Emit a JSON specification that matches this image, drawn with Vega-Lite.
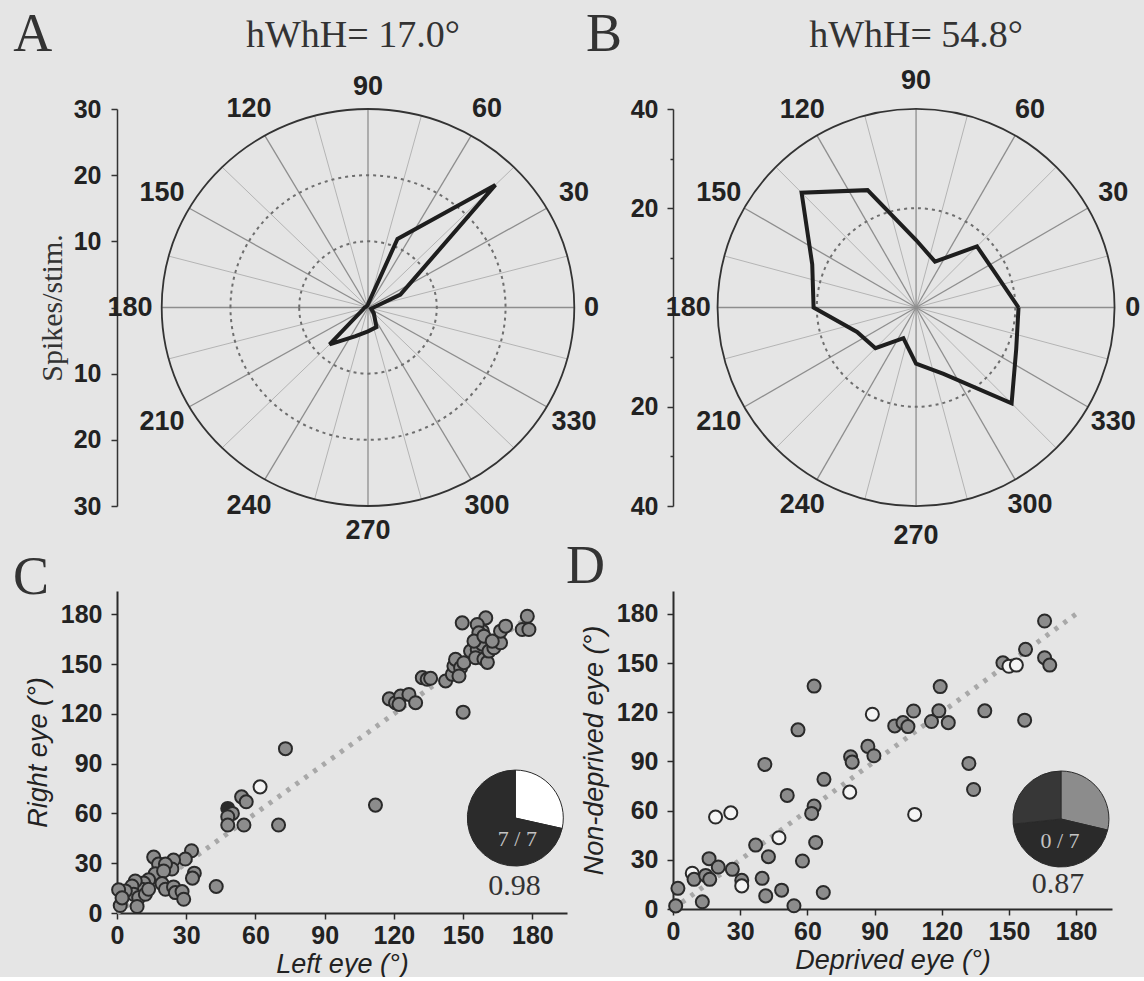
{
"$schema": "https://vega.github.io/schema/vega-lite/v6.json",
"background": "#e5e5e5",
"padding": {"left": 12, "top": 7, "right": 0, "bottom": 0},
"bounds": "flush",
"columns": 2,
"spacing": {"row": 85, "column": 54},
"resolve": {"scale": {"size": "independent"}},
"config": {"view": {"stroke": null}, "axis": {"grid": false}},
"datasets": {
"spokes": [{"angle":0},{"angle":15},{"angle":30},{"angle":45},{"angle":60},{"angle":75},{"angle":90},{"angle":105},{"angle":120},{"angle":135},{"angle":150},{"angle":165},{"angle":180},{"angle":195},{"angle":210},{"angle":225},{"angle":240},{"angle":255},{"angle":270},{"angle":285},{"angle":300},{"angle":315},{"angle":330},{"angle":345}],
"labelAngles": [{"angle":0},{"angle":30},{"angle":60},{"angle":90},{"angle":120},{"angle":150},{"angle":180},{"angle":210},{"angle":240},{"angle":270},{"angle":300},{"angle":330}],
"curveA": [{"angle":0,"r":0.8},{"angle":22.5,"r":5.1},{"angle":45,"r":26.2},{"angle":67.5,"r":11.2},{"angle":90,"r":0.5},{"angle":112.5,"r":0.3},{"angle":135,"r":0.3},{"angle":157.5,"r":0.3},{"angle":180,"r":0.5},{"angle":202.5,"r":0.8},{"angle":225,"r":7.9},{"angle":247.5,"r":4.7},{"angle":270,"r":3.6},{"angle":292.5,"r":3.2},{"angle":315,"r":1.2},{"angle":337.5,"r":0.5},{"angle":360,"r":0.8}],
"curveB": [{"angle":0,"r":20.7},{"angle":22.5,"r":17.5},{"angle":45,"r":17.4},{"angle":67.5,"r":10.0},{"angle":90,"r":13.6},{"angle":112.5,"r":25.6},{"angle":135,"r":32.7},{"angle":157.5,"r":22.7},{"angle":180,"r":20.7},{"angle":202.5,"r":12.9},{"angle":225,"r":11.6},{"angle":247.5,"r":6.7},{"angle":270,"r":11.3},{"angle":292.5,"r":14.5},{"angle":315,"r":27.3},{"angle":337.5,"r":21.9},{"angle":360,"r":20.7}],
"diag": [{"v":0},{"v":180}],
"ptsC": [
{"x":73,"y":99,"t":"f"},{"x":62,"y":76,"t":"o"},{"x":54,"y":70,"t":"f"},{"x":56,"y":67,"t":"f"},{"x":48,"y":63,"t":"d"},{"x":50,"y":60,"t":"f"},{"x":48,"y":58,"t":"f"},{"x":48,"y":53,"t":"f"},{"x":55,"y":53,"t":"f"},{"x":70,"y":53,"t":"f"},
{"x":43,"y":16,"t":"f"},{"x":33.5,"y":24,"t":"f"},{"x":32.7,"y":21,"t":"f"},{"x":32.3,"y":37.5,"t":"f"},{"x":29.6,"y":32.5,"t":"f"},{"x":15.9,"y":33.7,"t":"f"},{"x":18,"y":29.5,"t":"f"},{"x":24.5,"y":31.9,"t":"f"},{"x":23.8,"y":26.5,"t":"f"},{"x":21,"y":29.5,"t":"f"},
{"x":16.6,"y":23.7,"t":"f"},{"x":20.2,"y":25.3,"t":"f"},{"x":13.7,"y":20,"t":"f"},{"x":19.5,"y":17.7,"t":"f"},{"x":21,"y":14.3,"t":"f"},{"x":24.5,"y":15.7,"t":"f"},{"x":25.3,"y":12.3,"t":"f"},{"x":28.2,"y":12.9,"t":"f"},{"x":28.9,"y":8.3,"t":"f"},{"x":11.6,"y":18,"t":"f"},
{"x":10.8,"y":14.3,"t":"f"},{"x":7.9,"y":19.3,"t":"f"},{"x":6.5,"y":16.3,"t":"f"},{"x":7.2,"y":11.3,"t":"f"},{"x":9.4,"y":9.3,"t":"f"},{"x":3.6,"y":13.3,"t":"f"},{"x":8.7,"y":3.9,"t":"f"},{"x":1.4,"y":4.5,"t":"f"},{"x":0.7,"y":14,"t":"f"},{"x":2.2,"y":9.1,"t":"f"},
{"x":12.3,"y":11.3,"t":"f"},{"x":13.7,"y":14.3,"t":"f"},
{"x":112,"y":65,"t":"f"},{"x":150,"y":121,"t":"f"},{"x":118,"y":129,"t":"f"},{"x":120.7,"y":126.7,"t":"f"},{"x":122.9,"y":130.7,"t":"f"},{"x":126.5,"y":131.7,"t":"f"},{"x":129.4,"y":126.7,"t":"f"},{"x":122.2,"y":125.7,"t":"f"},
{"x":132.3,"y":141.8,"t":"f"},{"x":134.4,"y":140.8,"t":"f"},{"x":135.9,"y":141.4,"t":"f"},{"x":142.4,"y":139.8,"t":"f"},{"x":145.3,"y":143.8,"t":"f"},{"x":146,"y":148.8,"t":"f"},{"x":146.7,"y":152.8,"t":"f"},{"x":148.9,"y":147.8,"t":"f"},{"x":150.3,"y":150.8,"t":"f"},{"x":148.2,"y":142.8,"t":"f"},
{"x":149.6,"y":174.8,"t":"f"},{"x":153.2,"y":157.8,"t":"f"},{"x":156.1,"y":158.8,"t":"f"},{"x":155.4,"y":153.8,"t":"f"},{"x":158.3,"y":162,"t":"f"},{"x":159,"y":153,"t":"f"},{"x":160.5,"y":151,"t":"f"},{"x":161.2,"y":157.8,"t":"f"},{"x":163.3,"y":159.8,"t":"f"},{"x":166.2,"y":162.8,"t":"f"},
{"x":158.3,"y":169.8,"t":"f"},{"x":159.8,"y":177.8,"t":"f"},{"x":156.1,"y":173.8,"t":"f"},{"x":166.2,"y":169.8,"t":"f"},{"x":168.4,"y":172.8,"t":"f"},{"x":175.6,"y":170.8,"t":"f"},{"x":177.8,"y":178.8,"t":"f"},{"x":178.5,"y":170.8,"t":"f"},{"x":156.8,"y":168.8,"t":"f"},{"x":154.7,"y":163.8,"t":"f"},
{"x":159,"y":166.8,"t":"f"},{"x":162.6,"y":163.8,"t":"f"}
],
"ptsD": [
{"x":63,"y":136,"t":"f"},{"x":55.8,"y":109.3,"t":"f"},{"x":41,"y":88.2,"t":"f"},{"x":51,"y":69.3,"t":"f"},{"x":67.4,"y":79.1,"t":"f"},{"x":79.3,"y":92.9,"t":"f"},{"x":80,"y":89.6,"t":"f"},{"x":78.9,"y":71.3,"t":"o"},{"x":63,"y":62.8,"t":"f"},{"x":61.9,"y":58.3,"t":"f"},
{"x":19,"y":56.1,"t":"o"},{"x":25.8,"y":58.7,"t":"o"},{"x":47.3,"y":43.5,"t":"o"},{"x":36.9,"y":39,"t":"f"},{"x":42.6,"y":31.9,"t":"f"},{"x":57.8,"y":29.3,"t":"f"},{"x":63.7,"y":40.6,"t":"f"},{"x":16.1,"y":30.7,"t":"f"},{"x":20.2,"y":25.6,"t":"f"},{"x":26.5,"y":24.2,"t":"f"},
{"x":8.6,"y":21.8,"t":"o"},{"x":9.4,"y":18.1,"t":"f"},{"x":14.6,"y":20.5,"t":"f"},{"x":16.4,"y":18.1,"t":"f"},{"x":30.7,"y":17.5,"t":"f"},{"x":30.7,"y":14.1,"t":"o"},{"x":39.8,"y":18.7,"t":"f"},{"x":41.4,"y":8,"t":"f"},{"x":48.5,"y":11.5,"t":"f"},{"x":67.1,"y":10.1,"t":"f"},
{"x":54,"y":2,"t":"f"},{"x":13.1,"y":4.4,"t":"f"},{"x":2.2,"y":12.6,"t":"f"},{"x":1.2,"y":1.9,"t":"f"},
{"x":165.9,"y":175.7,"t":"f"},{"x":157.4,"y":158.4,"t":"f"},{"x":165.9,"y":153.3,"t":"f"},{"x":168.2,"y":148.8,"t":"f"},{"x":147.3,"y":150.2,"t":"f"},{"x":150,"y":148.1,"t":"o"},{"x":153.3,"y":148.8,"t":"o"},
{"x":119.3,"y":135.7,"t":"f"},{"x":107.4,"y":120.8,"t":"f"},{"x":89,"y":118.8,"t":"o"},{"x":99,"y":111.7,"t":"f"},{"x":102.7,"y":113.7,"t":"f"},{"x":104.9,"y":111.3,"t":"f"},{"x":115.4,"y":114.4,"t":"f"},{"x":118.7,"y":120.9,"t":"f"},{"x":122.9,"y":113.7,"t":"f"},{"x":139.2,"y":120.9,"t":"f"},
{"x":157,"y":115.2,"t":"f"},{"x":87,"y":99.2,"t":"f"},{"x":89.7,"y":93.5,"t":"f"},{"x":132.1,"y":88.8,"t":"f"},{"x":134.2,"y":72.9,"t":"f"},{"x":107.9,"y":57.7,"t":"o"}
],
"pieC": [{"i":1,"slice":"c_rest","frac":0.285},{"i":2,"slice":"c_match","frac":0.715}],
"pieD": [{"i":1,"slice":"d_a","frac":0.287},{"i":2,"slice":"d_b","frac":0.446},{"i":3,"slice":"d_c","frac":0.267}]
},
"concat": [
{
"width": 502, "height": 397,
"layer": [
{
"data": {"name": "spokes"},
"transform": [{"filter": "datum.angle % 30 != 0"},{"calculate": "0", "as": "o"},{"calculate": "30*cos(datum.angle*PI/180)", "as": "ex"},{"calculate": "30*sin(datum.angle*PI/180)", "as": "ey"}],
"mark": {"type": "rule", "stroke": "#b4b4b4", "strokeWidth": 1},
"encoding": {
"x": {"field": "o", "type": "quantitative", "scale": {"domain": [-36.5, 36.5], "nice": false, "zero": false}, "axis": null},
"y": {"field": "o", "type": "quantitative", "scale": {"domain": [-30, 30], "nice": false, "zero": false},
"axis": {"values": [-30,-25,-20,-15,-10,-5,0,5,10,15,20,25,30], "labelExpr": "datum.value % 10 == 0 && datum.value != 0 ? '' + abs(datum.value) : ''", "tickSize": {"condition": {"test": "datum.value % 10 == 0", "value": 6}, "value": 3}, "labelFont": "Liberation Sans", "labelFontWeight": "bold", "labelFontSize": 25, "labelColor": "#222222", "labelPadding": 10, "labelOverlap": false, "labelFlush": false, "domainColor": "#333333", "domainWidth": 1.5, "tickColor": "#333333", "tickWidth": 1.5, "title": "Spikes/stim.", "titleFont": "Liberation Serif", "titleFontWeight": "normal", "titleFontSize": 30, "titleColor": "#333333", "titlePadding": 6}},
"x2": {"field": "ex"}, "y2": {"field": "ey"}
}
},
{
"data": {"name": "spokes"},
"transform": [{"filter": "datum.angle % 30 == 0"},{"calculate": "0", "as": "o"},{"calculate": "30*cos(datum.angle*PI/180)", "as": "ex"},{"calculate": "30*sin(datum.angle*PI/180)", "as": "ey"}],
"mark": {"type": "rule", "stroke": "#8e8e8e", "strokeWidth": 1.3},
"encoding": {
"x": {"field": "o", "type": "quantitative", "scale": {"domain": [-36.5, 36.5], "nice": false, "zero": false}, "axis": null},
"y": {"field": "o", "type": "quantitative", "scale": {"domain": [-30, 30], "nice": false, "zero": false}},
"x2": {"field": "ex"}, "y2": {"field": "ey"}
}
},
{
"data": {"values": [{"r": 10}, {"r": 20}]},
"mark": {"type": "point", "shape": "M -1.0393 0 A 1.0393 1 0 1 1 1.0393 0 A 1.0393 1 0 1 1 -1.0393 0 Z", "filled": false, "stroke": "#6e6e6e", "strokeWidth": 2, "strokeDash": [3, 4], "opacity": 1},
"encoding": {
"x": {"datum": 0, "type": "quantitative", "scale": {"domain": [-36.5, 36.5], "nice": false, "zero": false}, "axis": null},
"y": {"datum": 0, "type": "quantitative", "scale": {"domain": [-30, 30], "nice": false, "zero": false}},
"size": {"field": "r", "type": "quantitative", "scale": {"type": "pow", "exponent": 2, "domain": [0, 30], "range": [0, 157609]}, "legend": null}
}
},
{
"data": {"values": [{"r": 30}]},
"mark": {"type": "point", "shape": "M -1.0393 0 A 1.0393 1 0 1 1 1.0393 0 A 1.0393 1 0 1 1 -1.0393 0 Z", "filled": false, "stroke": "#333333", "strokeWidth": 1.8, "opacity": 1},
"encoding": {
"x": {"datum": 0, "type": "quantitative", "scale": {"domain": [-36.5, 36.5], "nice": false, "zero": false}, "axis": null},
"y": {"datum": 0, "type": "quantitative", "scale": {"domain": [-30, 30], "nice": false, "zero": false}},
"size": {"field": "r", "type": "quantitative", "scale": {"type": "pow", "exponent": 2, "domain": [0, 30], "range": [0, 157609]}, "legend": null}
}
},
{
"data": {"name": "curveA"},
"transform": [{"calculate": "datum.r*cos(datum.angle*PI/180)", "as": "px"},{"calculate": "datum.r*sin(datum.angle*PI/180)", "as": "py"}],
"mark": {"type": "line", "color": "#1e1e1e", "strokeWidth": 4, "strokeJoin": "miter"},
"encoding": {
"x": {"field": "px", "type": "quantitative", "scale": {"domain": [-36.5, 36.5], "nice": false, "zero": false}, "axis": null},
"y": {"field": "py", "type": "quantitative", "scale": {"domain": [-30, 30], "nice": false, "zero": false}},
"order": {"field": "angle", "type": "quantitative"}
}
},
{
"data": {"name": "labelAngles"},
"transform": [{"calculate": "datum.angle == 0 ? 32.5 : datum.angle == 90 ? 33.4 : datum.angle == 270 ? 33.8 : 34.6", "as": "lr"},{"calculate": "datum.lr*cos(datum.angle*PI/180)", "as": "px"},{"calculate": "datum.lr*sin(datum.angle*PI/180)", "as": "py"}],
"mark": {"type": "text", "font": "Liberation Sans", "fontWeight": "bold", "fontSize": 27, "color": "#222222", "align": "center", "baseline": "middle"},
"encoding": {
"x": {"field": "px", "type": "quantitative", "scale": {"domain": [-36.5, 36.5], "nice": false, "zero": false}, "axis": null},
"y": {"field": "py", "type": "quantitative", "scale": {"domain": [-30, 30], "nice": false, "zero": false}},
"text": {"field": "angle", "type": "quantitative"}
}
},
{
"data": {"values": [{}]},
"mark": {"type": "text", "text": "hWhH= 17.0°", "font": "Liberation Serif", "fontSize": 38, "color": "#333333", "align": "left", "baseline": "alphabetic"},
"encoding": {
"x": {"datum": -17.74, "type": "quantitative", "scale": {"domain": [-36.5, 36.5], "nice": false, "zero": false}, "axis": null},
"y": {"datum": 39.37, "type": "quantitative", "scale": {"domain": [-30, 30], "nice": false, "zero": false}}
}
},
{
"data": {"values": [{}]},
"mark": {"type": "text", "text": "A", "font": "Liberation Serif", "fontSize": 54, "color": "#333333", "align": "left", "baseline": "alphabetic"},
"encoding": {
"x": {"datum": -51.6, "type": "quantitative", "scale": {"domain": [-36.5, 36.5], "nice": false, "zero": false}, "axis": null},
"y": {"datum": 38.76, "type": "quantitative", "scale": {"domain": [-30, 30], "nice": false, "zero": false}}
}
}
]
},
{
"width": 472, "height": 397,
"layer": [
{
"data": {"name": "spokes"},
"transform": [{"filter": "datum.angle % 30 != 0"},{"calculate": "0", "as": "o"},{"calculate": "40*cos(datum.angle*PI/180)", "as": "ex"},{"calculate": "40*sin(datum.angle*PI/180)", "as": "ey"}],
"mark": {"type": "rule", "stroke": "#b4b4b4", "strokeWidth": 1},
"encoding": {
"x": {"field": "o", "type": "quantitative", "scale": {"domain": [-49.1, 46.25], "nice": false, "zero": false}, "axis": null},
"y": {"field": "o", "type": "quantitative", "scale": {"domain": [-40, 40], "nice": false, "zero": false},
"axis": {"values": [-40,-30,-20,-10,0,10,20,30,40], "labelExpr": "datum.value % 20 == 0 && datum.value != 0 ? '' + abs(datum.value) : ''", "tickSize": {"condition": {"test": "datum.value % 20 == 0", "value": 6}, "value": 3}, "labelFont": "Liberation Sans", "labelFontWeight": "bold", "labelFontSize": 25, "labelColor": "#222222", "labelPadding": 9, "labelOverlap": false, "labelFlush": false, "domainColor": "#333333", "domainWidth": 1.5, "tickColor": "#333333", "tickWidth": 1.5, "title": ""}},
"x2": {"field": "ex"}, "y2": {"field": "ey"}
}
},
{
"data": {"name": "spokes"},
"transform": [{"filter": "datum.angle % 30 == 0"},{"calculate": "0", "as": "o"},{"calculate": "40*cos(datum.angle*PI/180)", "as": "ex"},{"calculate": "40*sin(datum.angle*PI/180)", "as": "ey"}],
"mark": {"type": "rule", "stroke": "#8e8e8e", "strokeWidth": 1.3},
"encoding": {
"x": {"field": "o", "type": "quantitative", "scale": {"domain": [-49.1, 46.25], "nice": false, "zero": false}, "axis": null},
"y": {"field": "o", "type": "quantitative", "scale": {"domain": [-40, 40], "nice": false, "zero": false}},
"x2": {"field": "ex"}, "y2": {"field": "ey"}
}
},
{
"data": {"values": [{"r": 20}]},
"mark": {"type": "point", "shape": "circle", "filled": false, "stroke": "#6e6e6e", "strokeWidth": 2, "strokeDash": [3, 4], "opacity": 1},
"encoding": {
"x": {"datum": 0, "type": "quantitative", "scale": {"domain": [-49.1, 46.25], "nice": false, "zero": false}, "axis": null},
"y": {"datum": 0, "type": "quantitative", "scale": {"domain": [-40, 40], "nice": false, "zero": false}},
"size": {"field": "r", "type": "quantitative", "scale": {"type": "pow", "exponent": 2, "domain": [0, 40], "range": [0, 157609]}, "legend": null}
}
},
{
"data": {"values": [{"r": 40}]},
"mark": {"type": "point", "shape": "circle", "filled": false, "stroke": "#333333", "strokeWidth": 1.8, "opacity": 1},
"encoding": {
"x": {"datum": 0, "type": "quantitative", "scale": {"domain": [-49.1, 46.25], "nice": false, "zero": false}, "axis": null},
"y": {"datum": 0, "type": "quantitative", "scale": {"domain": [-40, 40], "nice": false, "zero": false}},
"size": {"field": "r", "type": "quantitative", "scale": {"type": "pow", "exponent": 2, "domain": [0, 40], "range": [0, 157609]}, "legend": null}
}
},
{
"data": {"name": "curveB"},
"transform": [{"calculate": "datum.r*cos(datum.angle*PI/180)", "as": "px"},{"calculate": "datum.r*sin(datum.angle*PI/180)", "as": "py"}],
"mark": {"type": "line", "color": "#1e1e1e", "strokeWidth": 4, "strokeJoin": "miter"},
"encoding": {
"x": {"field": "px", "type": "quantitative", "scale": {"domain": [-49.1, 46.25], "nice": false, "zero": false}, "axis": null},
"y": {"field": "py", "type": "quantitative", "scale": {"domain": [-40, 40], "nice": false, "zero": false}},
"order": {"field": "angle", "type": "quantitative"}
}
},
{
"data": {"name": "labelAngles"},
"transform": [{"calculate": "datum.angle == 0 ? 43.8 : datum.angle == 90 ? 45.6 : 46", "as": "lr"},{"calculate": "datum.lr*cos(datum.angle*PI/180)", "as": "px"},{"calculate": "datum.lr*sin(datum.angle*PI/180)", "as": "py"}],
"mark": {"type": "text", "font": "Liberation Sans", "fontWeight": "bold", "fontSize": 27, "color": "#222222", "align": "center", "baseline": "middle"},
"encoding": {
"x": {"field": "px", "type": "quantitative", "scale": {"domain": [-49.1, 46.25], "nice": false, "zero": false}, "axis": null},
"y": {"field": "py", "type": "quantitative", "scale": {"domain": [-40, 40], "nice": false, "zero": false}},
"text": {"field": "angle", "type": "quantitative"}
}
},
{
"data": {"values": [{}]},
"mark": {"type": "text", "text": "hWhH= 54.8°", "font": "Liberation Serif", "fontSize": 38, "color": "#333333", "align": "left", "baseline": "alphabetic"},
"encoding": {
"x": {"datum": -21.6, "type": "quantitative", "scale": {"domain": [-49.1, 46.25], "nice": false, "zero": false}, "axis": null},
"y": {"datum": 52.5, "type": "quantitative", "scale": {"domain": [-40, 40], "nice": false, "zero": false}}
}
},
{
"data": {"values": [{}]},
"mark": {"type": "text", "text": "B", "font": "Liberation Serif", "fontSize": 54, "color": "#333333", "align": "left", "baseline": "alphabetic"},
"encoding": {
"x": {"datum": -66.67, "type": "quantitative", "scale": {"domain": [-49.1, 46.25], "nice": false, "zero": false}, "axis": null},
"y": {"datum": 51.69, "type": "quantitative", "scale": {"domain": [-40, 40], "nice": false, "zero": false}}
}
}
]
},
{
"width": 450, "height": 322,
"layer": [
{
"data": {"name": "diag"},
"mark": {"type": "line", "color": "#a8a8a8", "strokeWidth": 5, "strokeDash": [4, 7], "strokeCap": "butt"},
"encoding": {
"x": {"field": "v", "type": "quantitative", "scale": {"domain": [0, 195], "nice": false}},
"y": {"field": "v", "type": "quantitative", "scale": {"domain": [0, 194], "nice": false}}
}
},
{
"data": {"name": "ptsC"},
"mark": {"type": "circle", "size": 170, "opacity": 1, "stroke": "#2a2a2a", "strokeWidth": 2},
"encoding": {
"x": {"field": "x", "type": "quantitative", "scale": {"domain": [0, 195], "nice": false},
"axis": {"values": [0,15,30,45,60,75,90,105,120,135,150,165,180,195], "labelExpr": "datum.value % 30 == 0 ? datum.label : ''", "tickSize": {"condition": {"test": "datum.value % 30 == 0", "value": 6}, "value": 3}, "labelFont": "Liberation Sans", "labelFontWeight": "bold", "labelFontSize": 25, "labelColor": "#222222", "labelPadding": 4, "labelFlush": false, "labelOverlap": false, "domainColor": "#2a2a2a", "domainWidth": 2, "tickColor": "#2a2a2a", "tickWidth": 1.5, "title": "Left eye (°)", "titleFont": "Liberation Sans", "titleFontStyle": "italic", "titleFontWeight": "normal", "titleFontSize": 27, "titleColor": "#222222", "titlePadding": 3}},
"y": {"field": "y", "type": "quantitative", "scale": {"domain": [0, 194], "nice": false},
"axis": {"values": [0,15,30,45,60,75,90,105,120,135,150,165,180], "labelExpr": "datum.value % 30 == 0 ? datum.label : ''", "tickSize": {"condition": {"test": "datum.value % 30 == 0", "value": 6}, "value": 3}, "labelFont": "Liberation Sans", "labelFontWeight": "bold", "labelFontSize": 25, "labelColor": "#222222", "labelPadding": 9, "labelFlush": false, "labelOverlap": false, "domainColor": "#2a2a2a", "domainWidth": 2, "tickColor": "#2a2a2a", "tickWidth": 1.5, "title": "Right eye (°)", "titleFont": "Liberation Sans", "titleFontStyle": "italic", "titleFontWeight": "normal", "titleFontSize": 27, "titleColor": "#222222", "titlePadding": 8}},
"color": {"field": "t", "type": "nominal", "scale": {"domain": ["f","o","d"], "range": ["#8c8c8c","#f4f4f4","#2a2a2a"]}, "legend": null}
}
},
{
"data": {"name": "pieC"},
"transform": [{"stack": "frac", "groupby": [], "sort": [{"field": "i", "order": "ascending"}], "as": ["t0", "t1"]}],
"mark": {"type": "arc", "radius": 48, "stroke": "#2a2a2a", "strokeWidth": 1},
"encoding": {
"x": {"datum": 172.6, "type": "quantitative", "stack": null, "scale": {"domain": [0, 195], "nice": false}},
"y": {"datum": 57.2, "type": "quantitative", "stack": null, "scale": {"domain": [0, 194], "nice": false}},
"theta": {"field": "t0", "type": "quantitative", "scale": {"domain": [0, 1]}},
"theta2": {"field": "t1"},
"fill": {"field": "slice", "type": "nominal", "scale": {"domain": ["c_rest","c_match","d_a","d_b","d_c"], "range": ["#ffffff","#2b2b2b","#8c8c8c","#2a2a2a","#373737"]}, "legend": null}
}
},
{
"data": {"values": [{}]},
"mark": {"type": "text", "text": "7 / 7", "font": "Liberation Serif", "fontSize": 22, "color": "#c4c4c4", "align": "center", "baseline": "middle"},
"encoding": {
"x": {"datum": 173.5, "type": "quantitative", "scale": {"domain": [0, 195], "nice": false}},
"y": {"datum": 44.6, "type": "quantitative", "scale": {"domain": [0, 194], "nice": false}}
}
},
{
"data": {"values": [{}]},
"mark": {"type": "text", "text": "0.98", "font": "Liberation Serif", "fontSize": 30, "color": "#333333", "align": "center", "baseline": "middle"},
"encoding": {
"x": {"datum": 172.2, "type": "quantitative", "scale": {"domain": [0, 195], "nice": false}},
"y": {"datum": 16.3, "type": "quantitative", "scale": {"domain": [0, 194], "nice": false}}
}
},
{
"data": {"values": [{}]},
"mark": {"type": "text", "text": "C", "font": "Liberation Serif", "fontSize": 54, "color": "#333333", "align": "left", "baseline": "alphabetic"},
"encoding": {
"x": {"datum": -45.07, "type": "quantitative", "scale": {"domain": [0, 195], "nice": false}},
"y": {"datum": 192.2, "type": "quantitative", "scale": {"domain": [0, 194], "nice": false}}
}
}
]
},
{
"width": 439, "height": 318,
"layer": [
{
"data": {"name": "diag"},
"mark": {"type": "line", "color": "#a8a8a8", "strokeWidth": 5, "strokeDash": [4, 7], "strokeCap": "butt"},
"encoding": {
"x": {"field": "v", "type": "quantitative", "scale": {"domain": [0, 196], "nice": false}},
"y": {"field": "v", "type": "quantitative", "scale": {"domain": [0, 194], "nice": false}}
}
},
{
"data": {"name": "ptsD"},
"mark": {"type": "circle", "size": 170, "opacity": 1, "stroke": "#2a2a2a", "strokeWidth": 2},
"encoding": {
"x": {"field": "x", "type": "quantitative", "scale": {"domain": [0, 196], "nice": false},
"axis": {"values": [0,15,30,45,60,75,90,105,120,135,150,165,180,195], "labelExpr": "datum.value % 30 == 0 ? datum.label : ''", "tickSize": {"condition": {"test": "datum.value % 30 == 0", "value": 6}, "value": 3}, "labelFont": "Liberation Sans", "labelFontWeight": "bold", "labelFontSize": 25, "labelColor": "#222222", "labelPadding": 4, "labelFlush": false, "labelOverlap": false, "domainColor": "#2a2a2a", "domainWidth": 2, "tickColor": "#2a2a2a", "tickWidth": 1.5, "title": "Deprived eye (°)", "titleFont": "Liberation Sans", "titleFontStyle": "italic", "titleFontWeight": "normal", "titleFontSize": 27, "titleColor": "#222222", "titlePadding": 3}},
"y": {"field": "y", "type": "quantitative", "scale": {"domain": [0, 194], "nice": false},
"axis": {"values": [0,15,30,45,60,75,90,105,120,135,150,165,180], "labelExpr": "datum.value % 30 == 0 ? datum.label : ''", "tickSize": {"condition": {"test": "datum.value % 30 == 0", "value": 6}, "value": 3}, "labelFont": "Liberation Sans", "labelFontWeight": "bold", "labelFontSize": 25, "labelColor": "#222222", "labelPadding": 9, "labelFlush": false, "labelOverlap": false, "domainColor": "#2a2a2a", "domainWidth": 2, "tickColor": "#2a2a2a", "tickWidth": 1.5, "title": "Non-deprived eye (°)", "titleFont": "Liberation Sans", "titleFontStyle": "italic", "titleFontWeight": "normal", "titleFontSize": 27, "titleColor": "#222222", "titlePadding": 8}},
"color": {"field": "t", "type": "nominal", "scale": {"domain": ["f","o","d"], "range": ["#8c8c8c","#f4f4f4","#2a2a2a"]}, "legend": null}
}
},
{
"data": {"name": "pieD"},
"transform": [{"stack": "frac", "groupby": [], "sort": [{"field": "i", "order": "ascending"}], "as": ["t0", "t1"]}],
"mark": {"type": "arc", "radius": 48, "stroke": "#2a2a2a", "strokeWidth": 1},
"encoding": {
"x": {"datum": 173.2, "type": "quantitative", "stack": null, "scale": {"domain": [0, 196], "nice": false}},
"y": {"datum": 54.9, "type": "quantitative", "stack": null, "scale": {"domain": [0, 194], "nice": false}},
"theta": {"field": "t0", "type": "quantitative", "scale": {"domain": [0, 1]}},
"theta2": {"field": "t1"},
"fill": {"field": "slice", "type": "nominal", "scale": {"domain": ["c_rest","c_match","d_a","d_b","d_c"], "range": ["#ffffff","#2b2b2b","#8c8c8c","#2a2a2a","#373737"]}, "legend": null}
}
},
{
"data": {"values": [{}]},
"mark": {"type": "text", "text": "0 / 7", "font": "Liberation Serif", "fontSize": 22, "color": "#c4c4c4", "align": "center", "baseline": "middle"},
"encoding": {
"x": {"datum": 172.8, "type": "quantitative", "scale": {"domain": [0, 196], "nice": false}},
"y": {"datum": 41.5, "type": "quantitative", "scale": {"domain": [0, 194], "nice": false}}
}
},
{
"data": {"values": [{}]},
"mark": {"type": "text", "text": "0.87", "font": "Liberation Serif", "fontSize": 30, "color": "#333333", "align": "center", "baseline": "middle"},
"encoding": {
"x": {"datum": 171.9, "type": "quantitative", "scale": {"domain": [0, 196], "nice": false}},
"y": {"datum": 15.3, "type": "quantitative", "scale": {"domain": [0, 194], "nice": false}}
}
},
{
"data": {"values": [{}]},
"mark": {"type": "text", "text": "D", "font": "Liberation Serif", "fontSize": 54, "color": "#333333", "align": "left", "baseline": "alphabetic"},
"encoding": {
"x": {"datum": -47.77, "type": "quantitative", "scale": {"domain": [0, 196], "nice": false}},
"y": {"datum": 198.9, "type": "quantitative", "scale": {"domain": [0, 194], "nice": false}}
}
}
]
}
]
}
